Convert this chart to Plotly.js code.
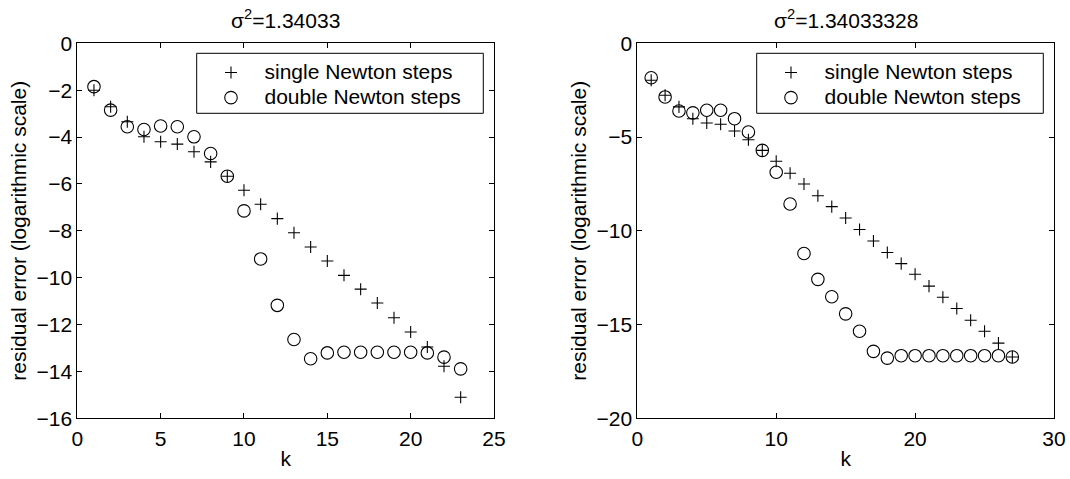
<!DOCTYPE html>
<html>
<head>
<meta charset="utf-8">
<script src="https://cdn.plot.ly/plotly-3.0.1.min.js"></script>
<style>html,body{margin:0;padding:0;background:#fff;}#chart{width:1070px;height:479px;}</style>
</head>
<body>
<div id="chart"></div>
<script>
// Left panel (sigma^2 = 1.34033)
var kLeft = [1,2,3,4,5,6,7,8,9,10,11,12,13,14,15,16,17,18,19,20,21,22,23];
var singleLeft = [-2.0,-2.71,-3.35,-3.99,-4.2,-4.3,-4.63,-5.06,-5.67,-6.27,-6.87,-7.48,-8.08,-8.69,-9.29,-9.9,-10.49,-11.08,-11.71,-12.32,-12.96,-13.78,-15.1];
var doubleLeft = [-1.85,-2.85,-3.56,-3.68,-3.53,-3.56,-3.99,-4.7,-5.67,-7.15,-9.2,-11.18,-12.64,-13.46,-13.21,-13.18,-13.18,-13.18,-13.18,-13.18,-13.21,-13.39,-13.89];

// Right panel (sigma^2 = 1.34033328)
var kRight = [1,2,3,4,5,6,7,8,9,10,11,12,13,14,15,16,17,18,19,20,21,22,23,24,25,26,27];
var singleRight = [-1.97,-2.77,-3.39,-4.02,-4.25,-4.32,-4.68,-5.14,-5.71,-6.29,-6.93,-7.5,-8.13,-8.71,-9.32,-9.93,-10.54,-11.16,-11.75,-12.32,-12.95,-13.54,-14.14,-14.77,-15.36,-15.99,-16.73];
var doubleRight = [-1.84,-2.86,-3.61,-3.71,-3.57,-3.57,-4.02,-4.73,-5.71,-6.88,-8.57,-11.21,-12.59,-13.52,-14.43,-15.36,-16.43,-16.79,-16.66,-16.66,-16.66,-16.66,-16.66,-16.66,-16.66,-16.66,-16.73];

var titles = ['σ<sup>2</sup>=1.34033', 'σ<sup>2</sup>=1.34033328'];
var seriesNames = ['single Newton steps', 'double Newton steps'];
var yTitle = 'residual error (logarithmic scale)';
var xTitle = 'k';

var FONT = 'Liberation Sans, Arial, Helvetica, sans-serif';
var FS = 21;
var LEGFS = 17; // legend row spacing base; entry text is drawn at FS

function legName(s) { return '<span style="font-size:' + FS + 'px">' + s + '</span>'; }

function plusTrace(x, y, xa, ya, lg) {
  return {x: x, y: y, xaxis: xa, yaxis: ya, legend: lg, name: legName(seriesNames[0]), type: 'scatter', mode: 'markers',
    marker: {symbol: 'cross-thin-open', size: 8.6, color: '#000', line: {color: '#000', width: 1.1}}};
}
function circTrace(x, y, xa, ya, lg) {
  return {x: x, y: y, xaxis: xa, yaxis: ya, legend: lg, name: legName(seriesNames[1]), type: 'scatter', mode: 'markers',
    marker: {symbol: 'circle-open', size: 12.5, color: '#000', line: {color: '#000', width: 1.1}}};
}

var data = [
  plusTrace(kLeft, singleLeft, 'x', 'y', 'legend'),
  circTrace(kLeft, doubleLeft, 'x', 'y', 'legend'),
  plusTrace(kRight, singleRight, 'x2', 'y2', 'legend2'),
  circTrace(kRight, doubleRight, 'x2', 'y2', 'legend2')
];

var W = 1070, H = 479;
function px(v){return v/W;}
function py(v){return 1 - v/H;}

function axisBase() {
  return {showline: true, linecolor: '#000', linewidth: 1, mirror: 'allticks', ticks: 'inside', ticklen: 5,
    tickcolor: '#000', tickwidth: 1, showgrid: false, zeroline: false, automargin: false,
    tickfont: {family: FONT, size: FS, color: '#000'}};
}

var xa1 = Object.assign(axisBase(), {domain: [px(77.3), px(494)], range: [0, 25], dtick: 5, tick0: 0, anchor: 'y',
  ticklabelstandoff: 1, title: {text: xTitle, font: {family: FONT, size: FS, color: '#000'}, standoff: 2}});
var ya1 = Object.assign(axisBase(), {domain: [py(418.3), py(43.3)], range: [-16, 0], dtick: 2, tick0: 0, anchor: 'x',
  ticklabelstandoff: 0.5, title: {text: yTitle, font: {family: FONT, size: FS, color: '#000'}, standoff: 4}});
var xa2 = Object.assign(axisBase(), {domain: [px(637.3), px(1054)], range: [0, 30], dtick: 10, tick0: 0, anchor: 'y2',
  ticklabelstandoff: 1, title: {text: xTitle, font: {family: FONT, size: FS, color: '#000'}, standoff: 2}});
var ya2 = Object.assign(axisBase(), {domain: [py(418.3), py(43.3)], range: [-20, 0], dtick: 5, tick0: 0, anchor: 'x2',
  ticklabelstandoff: 0.5, title: {text: yTitle, font: {family: FONT, size: FS, color: '#000'}, standoff: 4}});

function legendOpts(xLeft) {
  return {x: px(xLeft), y: py(55), xanchor: 'left', yanchor: 'top', bgcolor: 'rgba(0,0,0,0)', borderwidth: 0,
    itemwidth: 57, tracegroupgap: 0, font: {family: FONT, size: LEGFS, color: '#000'}};
}

var layout = {
  width: W, height: H,
  margin: {l: 0, r: 0, t: 0, b: 0},
  paper_bgcolor: '#fff', plot_bgcolor: '#fff',
  font: {family: FONT, size: FS, color: '#000'},
  xaxis: xa1, yaxis: ya1, xaxis2: xa2, yaxis2: ya2,
  showlegend: true,
  legend: legendOpts(197.5),
  legend2: legendOpts(757.5),
  shapes: [
    {type: 'rect', xref: 'paper', yref: 'paper', x0: px(196.7), x1: px(483.3), y0: py(113.3), y1: py(53.3),
      line: {color: '#000', width: 1}, fillcolor: 'rgba(0,0,0,0)', layer: 'above'},
    {type: 'rect', xref: 'paper', yref: 'paper', x0: px(756.7), x1: px(1043.3), y0: py(113.3), y1: py(53.3),
      line: {color: '#000', width: 1}, fillcolor: 'rgba(0,0,0,0)', layer: 'above'}
  ],
  annotations: [
    {text: titles[0], xref: 'paper', yref: 'paper', x: px(285.6), y: py(18.5), xanchor: 'center', yanchor: 'middle',
      showarrow: false, font: {family: FONT, size: FS, color: '#000'}},
    {text: titles[1], xref: 'paper', yref: 'paper', x: px(845.6), y: py(18.5), xanchor: 'center', yanchor: 'middle',
      showarrow: false, font: {family: FONT, size: FS, color: '#000'}}
  ]
};

Plotly.newPlot('chart', data, layout, {staticPlot: true, displayModeBar: false});
</script>
</body>
</html>
